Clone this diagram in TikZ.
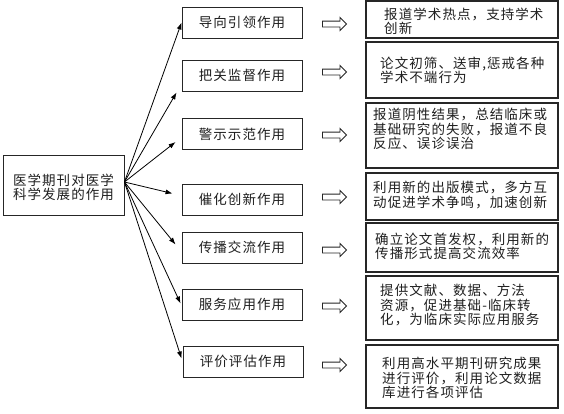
\documentclass[tikz,border=0pt]{standalone}
\usepackage{fontspec}
\newfontfamily\cjk{Noto Sans CJK SC}[LetterSpace=8]
\usetikzlibrary{arrows.meta,shapes.arrows,calc}
\begin{document}
\begin{tikzpicture}[x=1pt,y=-1pt,
  lbox/.style={draw=black!85, line width=0.9pt, minimum width=121pt, minimum height=60pt, inner sep=0pt, align=center, font=\cjk\fontsize{13.5}{13.5}\selectfont, text=black!88},
  mbox/.style={draw=black!85, line width=0.9pt, minimum width=120pt, minimum height=31pt, inner sep=0pt, font=\cjk\fontsize{13.5}{14}\selectfont, text=black!88},
  rbox/.style={draw=black!85, line width=1.3pt, minimum width=192pt, inner sep=0pt},
  rtext/.style={anchor=west, align=left, inner sep=0pt, font=\cjk\fontsize{13.5}{14.2}\selectfont, text=black!88},
  hollow/.style={single arrow, draw=black!85, line width=0.9pt, minimum height=24pt, inner sep=2.5pt, single arrow head extend=3.5pt, single arrow tip angle=90},
  conn/.style={-{Latex[length=7pt,width=5pt]}, line width=0.8pt, draw=black}
]
\useasboundingbox[fill=white] (0,0) rectangle (564,413);
% left box
\node[lbox] (L) at (63.5,185) {};
\node[inner sep=0pt, align=center, font=\cjk\fontsize{13.5}{13.5}\selectfont, text=black!88] (Lt) at (63.5,187.5) {医学期刊对医学\\科学发展的作用};
% middle boxes
\node[mbox] (m1) at (242,22.5) {导向引领作用};
\node[mbox] (m2) at (242,75.5) {把关监督作用};
\node[mbox] (m3) at (242,134) {警示示范作用};
\node[mbox] (m4) at (242,199.5) {催化创新作用};
\node[mbox] (m5) at (242,247.5) {传播交流作用};
\node[mbox] (m6) at (242,304.5) {服务应用作用};
\node[mbox] (m7) at (243,361.5) {评价评估作用};
% connectors
\coordinate (o) at ($(L.east)+(0,-3)$);
\draw[conn] (o) -- (m1.west);
\draw[conn] (o) -- ($(m2.south west)+(-5,1)$);
\draw[conn] (o) -- ($(m3.west)+(-6,8)$);
\draw[conn] (o) -- ($(m4.west)+(-9,-6)$);
\draw[conn] (o) -- ($(m5.west)+(-6,-3)$);
\draw[conn] (o) -- ($(m6.west)+(-1,-1)$);
\draw[conn] (o) -- ($(m7.west)+(-1,-3)$);
% hollow arrows
\node[hollow] (a1) at (333,24) {};
\node[hollow] (a2) at (333,72) {};
\node[hollow] (a3) at (333,135) {};
\node[hollow] (a4) at (333,197) {};
\node[hollow] (a5) at (333,250) {};
\node[hollow] (a6) at (333,306) {};
\node[hollow] (a7) at (333,365) {};
% right boxes
\node[rbox, minimum height=37pt] (r1) at (462,19.5) {};
\node[rbox, minimum height=56pt] (r2) at (462,70) {};
\node[rbox, minimum height=65pt] (r3) at (462,135.5) {};
\node[rbox, minimum height=47pt] (r4) at (462,196.5) {};
\node[rbox, minimum height=49pt] (r5) at (462,247.5) {};
\node[rbox, minimum height=64pt] (r6) at (462,308) {};
\node[rbox, minimum height=63pt] (r7) at (462,376.5) {};
% right texts
\node[rtext] (t1) at (384,21.5) {报道学术热点，支持学术\\创新};
\node[rtext] (t2) at (380,70) {论文初筛、送审,惩戒各种\\学术不端行为};
\node[rtext] (t3) at (373,129) {报道阴性结果，总结临床或\\基础研究的失败，报道不良\\反应、误诊误治};
\node[rtext] (t4) at (373,195) {利用新的出版模式，多方互\\动促进学术争鸣，加速创新};
\node[rtext] (t5) at (375,246) {确立论文首发权，利用新的\\传播形式提高交流效率};
\node[rtext] (t6) at (380,305) {提供文献、数据、方法\\资源，促进基础-临床转\\化，为临床实际应用服务};
\node[rtext] (t7) at (382,378) {利用高水平期刊研究成果\\进行评价，利用论文数据\\库进行各项评估};
\end{tikzpicture}
\end{document}
